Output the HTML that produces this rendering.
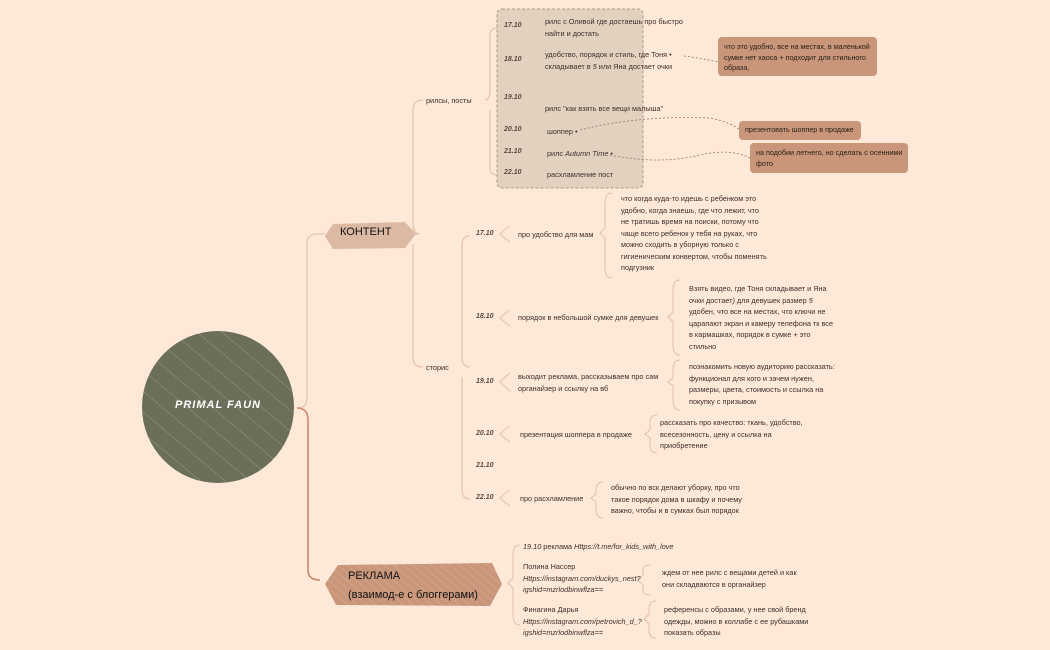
<!DOCTYPE html>
<html><head><meta charset="utf-8"><style>
body{margin:0;width:1050px;height:650px;background:#fee8d8;position:relative;overflow:hidden;font-family:"Liberation Sans",sans-serif;color:#3a302a}
.t{position:absolute;font-size:7.3px;line-height:11.5px;white-space:nowrap}
.d{position:absolute;font-size:7px;font-style:italic;font-weight:bold;color:#5a4a40}
.note{position:absolute;background:#c9967a;border-radius:4px;font-size:7.2px;line-height:10.5px;padding:5px 6px;box-sizing:border-box;color:#2a2018;white-space:nowrap}
</style></head><body>
<svg width="1050" height="650" style="position:absolute;left:0;top:0">
<defs><pattern id="h" width="16" height="16" patternUnits="userSpaceOnUse" patternTransform="rotate(-50)"><line x1="0" y1="0" x2="0" y2="16" stroke="#f0e2d4" stroke-width="0.8" opacity=".45"/></pattern>
<pattern id="h2" width="6" height="6" patternUnits="userSpaceOnUse" patternTransform="rotate(-50)"><line x1="0" y1="0" x2="0" y2="6" stroke="#f1d6c4" stroke-width="0.8" opacity=".5"/></pattern></defs>
<g fill="none" stroke="#e6c4b0" stroke-width="1.3">
<path d="M297,408 Q307,408 307,398 L307,244 Q307,234 317,234 L325,234"/>
<path d="M415,234 L420,234 Q413,234 413,224 L413,110 Q413,100 423,100"/>
<path d="M413,244 L413,357 Q413,367 423,367"/>
<path d="M485,100 Q490,100 490,90 L490,36 Q490,28 497,28"/>
<path d="M490,110 L490,168 Q490,175 497,175"/>
<path d="M470,367 Q462,367 462,357 L462,245 Q462,236 470,236"/>
<path d="M462,377 L462,490 Q462,499 470,499"/>
</g>
<path d="M297,408 Q308,408 308,420 L308,570 Q308,580 320,580" fill="none" stroke="#c98a6c" stroke-width="1.6"/>
<g fill="none" stroke="#e2c0aa" stroke-width="1">
<path d="M534,15 Q527,15 527,24 L527,28 L522,31 L527,34 L527,38 Q527,46 534,46"/>
<path d="M534,48 Q527,48 527,56 L527,60 L522,63 L527,66 L527,70 Q527,78 534,78"/>
<path d="M534,90 Q527,90 527,95 L527,98 L522,100 L527,102 L527,105 Q527,110 534,110"/>
<path d="M534,123 Q527,123 527,127 L527,129 L522,131 L527,133 L527,135 Q527,139 534,139"/>
<path d="M534,145 Q527,145 527,149 L527,151 L522,153 L527,155 L527,157 Q527,161 534,161"/>
<path d="M534,165 Q527,165 527,169 L527,171 L522,173 L527,175 L527,177 Q527,181 534,181"/>
<path d="M510,226 Q504,230 500,234 Q504,238 510,242"/>
<path d="M510,310 Q504,314 500,318 Q504,322 510,326"/>
<path d="M510,373 Q504,378 500,382 Q504,386 510,391"/>
<path d="M510,426 Q504,430 500,434 Q504,438 510,442"/>
<path d="M510,490 Q504,494 500,498 Q504,502 510,506"/>
<path d="M612,193 Q605,193 605,203 L605,228 L600,233 L605,238 L605,268 Q605,278 612,278"/>
<path d="M680,280 Q673,280 673,290 L673,312 L668,317 L673,322 L673,346 Q673,355 680,355"/>
<path d="M680,360 Q673,360 673,370 L673,378 L668,382 L673,386 L673,400 Q673,410 680,410"/>
<path d="M657,415 Q650,415 650,423 L650,430 L645,434 L650,438 L650,445 Q650,453 657,453"/>
<path d="M603,482 Q596,482 596,490 L596,494 L591,498 L596,502 L596,510 Q596,518 603,518"/>
<path d="M520,545 Q513,545 513,555 L513,578 L508,583 L513,588 L513,615 Q513,625 520,625"/>
<path d="M650,565 Q643,565 643,570 L643,575 L638,580 L643,585 L643,590 Q643,595 650,595"/>
<path d="M656,601 Q649,601 649,609 L649,614 L644,619 L649,624 L649,630 Q649,638 656,638"/>
</g>
<circle cx="218" cy="407" r="76" fill="#6b6e59"/>
<circle cx="218" cy="407" r="76" fill="url(#h)"/>
<path d="M333,224 L405,222 L416,234 L405,248 L333,249 L325,236Z" fill="#dcb9a3"/>
<path d="M338,565 L492,563 L502,584 L490,606 L336,605 L325,584Z" fill="#c9967a"/>
<path d="M338,565 L492,563 L502,584 L490,606 L336,605 L325,584Z" fill="url(#h2)"/>
<rect x="497" y="9" width="146" height="179" rx="5" fill="#e2d1bf" stroke="#a89a8c" stroke-dasharray="3,2" stroke-width="1"/>
<rect x="497" y="9" width="146" height="179" rx="5" fill="url(#h)"/>
<g fill="none" stroke="#8a7a70" stroke-width="0.8" stroke-dasharray="2,2">
<path d="M684,56 Q700,58 718,62"/>
<path d="M580,130 Q640,115 710,118 Q730,122 740,130"/>
<path d="M610,155 Q660,165 700,155 Q730,148 750,158"/>
</g>
</svg>
<div class="t" style="left:168px;top:400px;width:100px;text-align:center;color:#fff;font-weight:bold;font-style:italic;font-size:11px;letter-spacing:1px">PRIMAL FAUN</div>
<div class="t" style="left:340px;top:227px;font-size:11px;color:#111">КОНТЕНТ</div>
<div class="t" style="left:348px;top:567px;font-size:11px;line-height:19px;color:#111">РЕКЛАМА<br>(взаимод-е с блоггерами)</div>
<div class="t" style="left:426px;top:95px">рилсы, посты</div>
<div class="t" style="left:426px;top:362px">сторис</div>
<div class="d" style="left:504px;top:22px">17.10</div>
<div class="t" style="left:545px;top:16px">рилс с Оливой где достаешь про быстро<br>найти и достать</div>
<div class="d" style="left:504px;top:56px">18.10</div>
<div class="t" style="left:545px;top:49px">удобство, порядок и стиль, где Тоня •<br>складывает в <i>5</i> или Яна достает очки</div>
<div class="d" style="left:504px;top:94px">19.10</div>
<div class="t" style="left:545px;top:103px">рилс "как взять все вещи малыша"</div>
<div class="d" style="left:504px;top:126px">20.10</div>
<div class="t" style="left:547px;top:126px">шоппер •</div>
<div class="d" style="left:504px;top:148px">21.10</div>
<div class="t" style="left:547px;top:148px">рилс <i>Autumn Time</i> •</div>
<div class="d" style="left:504px;top:169px">22.10</div>
<div class="t" style="left:547px;top:169px">расхламление пост</div>
<div class="note" style="left:718px;top:37px;width:159px;height:39px">что это удобно, все на местах, в маленькой<br>сумке нет хаоса + подходит для стильного<br>образа,</div>
<div class="note" style="left:739px;top:121px;width:122px;height:19px;padding-top:4px">презентовать шоппер в продаже</div>
<div class="note" style="left:750px;top:143px;width:158px;height:30px">на подобии летнего, но сделать с осенними<br>фото</div>
<div class="d" style="left:476px;top:230px">17.10</div>
<div class="t" style="left:518px;top:229px">про удобство для мам</div>
<div class="t" style="left:621px;top:193px">что когда куда-то идешь с ребенком это<br>удобно, когда знаешь, где что лежит, что<br>не тратишь время на поиски, потому что<br>чаще всего ребенок у тебя на руках, что<br>можно сходить в уборную только с<br>гигиеническим конвертом, чтобы поменять<br>подгузник</div>
<div class="d" style="left:476px;top:313px">18.10</div>
<div class="t" style="left:518px;top:312px">порядок в небольшой сумке для девушек</div>
<div class="t" style="left:689px;top:283px">Взять видео, где Тоня складывает и Яна<br>очки достает<i>)</i> для девушек размер <i>5</i><br>удобен, что все на местах, что ключи не<br>царапают экран и камеру телефона тк все<br>в кармашках, порядок в сумке + это<br>стильно</div>
<div class="d" style="left:476px;top:378px">19.10</div>
<div class="t" style="left:518px;top:371px">выходит реклама, рассказываем про сам<br>органайзер и ссылку на вб</div>
<div class="t" style="left:689px;top:361px">познакомить новую аудиторию рассказать:<br>функционал для кого и зачем нужен,<br>размеры, цвета, стоимость и ссылка на<br>покупку с призывом</div>
<div class="d" style="left:476px;top:430px">20.10</div>
<div class="t" style="left:520px;top:429px">презентация шоппера в продаже</div>
<div class="t" style="left:660px;top:417px">рассказать про качество: ткань, удобство,<br>всесезонность, цену и ссылка на<br>приобретение</div>
<div class="d" style="left:476px;top:462px">21.10</div>
<div class="d" style="left:476px;top:494px">22.10</div>
<div class="t" style="left:520px;top:493px">про расхламление</div>
<div class="t" style="left:611px;top:482px">обычно по вск делают уборку, про что<br>такое порядок дома в шкафу и почему<br>важно, чтобы и в сумках был порядок</div>
<div class="t" style="left:523px;top:541px"><i>19.10</i> реклама <i>Https://t.me/for_kids_with_love</i></div>
<div class="t" style="left:523px;top:561px">Полина Нассер<br><i>Https://instagram.com/duckys_nest?<br>igshid=mzrlodbinwflza==</i></div>
<div class="t" style="left:662px;top:567px">ждем от нее рилс с вещами детей и как<br>они складваются в органайзер</div>
<div class="t" style="left:523px;top:604px">Финагина Дарья<br><i>Https://instagram.com/petrovich_d_?<br>igshid=mzrlodbinwflza==</i></div>
<div class="t" style="left:664px;top:604px">референсы с образами, у нее свой бренд<br>одежды, можно в коллабе с ее рубашками<br>показать образы</div>
</body></html>
